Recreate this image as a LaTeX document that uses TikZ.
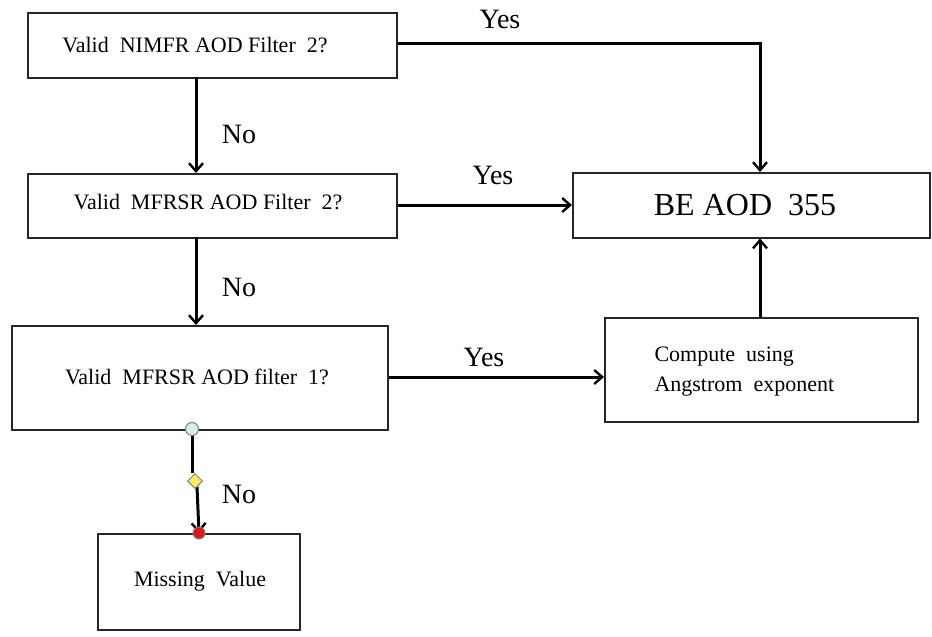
\documentclass[tikz,border=0pt]{standalone}
\usepackage{fontspec}
\setmainfont{Liberation Serif}
\newfontfamily\tnr{Liberation Serif}
\usetikzlibrary{arrows.meta,shapes.geometric}
\definecolor{hndblue}{HTML}{D6ECF2}
\definecolor{hndyellow}{HTML}{FFEE55}
\definecolor{hndred}{HTML}{E3141B}
\tikzset{
  box/.style={draw=black!85, line width=1.5pt, anchor=north west, inner sep=0pt},
  boxtext/.style={font=\tnr\fontsize{22}{27}\selectfont},
  lbl/.style={font=\tnr\fontsize{28}{32}\selectfont, inner sep=0pt},
  conn/.style={line width=3pt, -{Straight Barb[length=8pt,width=14pt,line width=2.4pt]}},
  plain/.style={line width=3pt},
  handle/.style={draw=black!50, inner sep=0pt, line width=1pt},
}
\begin{document}
\begin{tikzpicture}[x=1pt,y=-1pt]
\useasboundingbox (0,0) rectangle (932,637);
% boxes
\node[box, minimum width=369pt, minimum height=65pt] (q1) at (27,12) {};
\node[boxtext] (q1t) at (195,45) {Valid\ \ NIMFR AOD Filter\ \ 2?};
\node[box, minimum width=369pt, minimum height=64pt] (q2) at (27,173) {};
\node[boxtext] (q2t) at (208,202) {Valid\ \ MFRSR AOD Filter\ \ 2?};
\node[box, minimum width=376pt, minimum height=104pt] (q3) at (11,325) {};
\node[boxtext] (q3t) at (197,377) {Valid\ \ MFRSR AOD filter\ \ 1?};
\node[box, minimum width=357pt, minimum height=65pt] (be) at (572,172) {};
\node[font=\tnr\fontsize{32}{36}\selectfont] (bet) at (745,205) {BE AOD\ \ 355};
\node[box, minimum width=313pt, minimum height=104pt] (comp) at (604,317) {};
\node[align=left, anchor=west, font=\tnr\fontsize{22}{30}\selectfont] (compt) at (651,372) {Compute\ \ using\\Angstrom\ \ exponent};
\node[box, minimum width=202pt, minimum height=96pt] (miss) at (97,533) {};
\node[boxtext] (misst) at (200,581) {Missing\ \ Value};
% helper coordinates
\coordinate (c1) at (760,43);
\coordinate (q1s) at (196,77);
\coordinate (q2n) at (196,173);
\coordinate (q2s) at (196,237);
\coordinate (q3n) at (196,325);
% connectors
\draw[conn] (q1.east |- c1) -- (c1) -- (c1 |- be.north);
\draw[conn] (q1s) -- (q2n);
\draw[conn] (q2.east |- 0,205) -- (be.west |- 0,205);
\draw[conn] (q2s) -- (q3n);
\draw[conn] (q3.east |- 0,377) -- (comp.west |- 0,377);
\draw[conn] (comp.north -| c1) -- (be.south -| c1);
% missing branch with handles
\coordinate (h1) at (192,429);
\coordinate (h2) at (195,481);
\coordinate (h3) at (199,533);
\draw[plain] (h1) -- (192,473);
\draw[conn] (197,487) -- (h3);
\node[circle, handle, fill=hndblue, minimum size=13pt] (hb) at (h1) {};
\node[diamond, handle, fill=hndyellow, minimum size=15pt] (hy) at (h2) {};
\node[circle, handle, fill=hndred, minimum size=12pt] (hr) at (h3) {};
% labels
\node[lbl] (y1) at (500,19) {Yes};
\node[lbl] (n1) at (239,134) {No};
\node[lbl] (y2) at (493,175) {Yes};
\node[lbl] (n2) at (239,287) {No};
\node[lbl] (y3) at (484,357) {Yes};
\node[lbl] (n3) at (239,494) {No};
\end{tikzpicture}
\end{document}
